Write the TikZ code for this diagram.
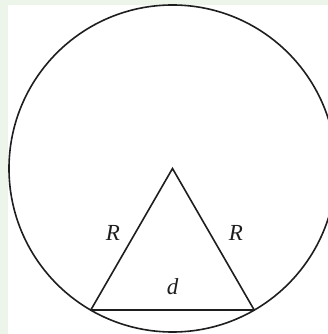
\documentclass[tikz,border=0pt]{standalone}
\usepackage{fontspec}
\setmainfont{Liberation Serif}
\definecolor{PageGreen}{HTML}{EDF4EA}
\definecolor{Ink}{HTML}{1E1E1E}

\begin{document}
\begin{tikzpicture}[x=1pt, y=1pt,
    rim/.style={draw=Ink, line width=1.6pt},
    side/.style={draw=Ink, line width=1.6pt},
    chord/.style={draw=Ink, line width=2.2pt},
    lbl/.style={font=\fontsize{23}{24}\selectfont\itshape, text=Ink, inner sep=0pt}]
  \useasboundingbox (-172.5,-165.5) rectangle (155.5,168.5);
  \fill[PageGreen] (-172.5,-165.5) rectangle (155.5,168.5);
  \fill[white] (-164.5,-165.5) rectangle (155.5,163.5);
  \clip (-172.5,-165.5) rectangle (155.5,168.5);
  % centre and the two ends of the chord
  \coordinate (O) at (0,0);
  \coordinate (A) at (240:163.5);
  \coordinate (B) at (300:163.5);
  \draw[rim] (O) circle (163.5);
  \draw[side] (A) -- (O) -- (B);
  \draw[chord] (A) -- (B);
  \node[lbl] (rLeft) at (-59.5,-64.5) {R};
  \node[lbl] (rRight) at (63.5,-64.5) {R};
  \node[lbl] (dLab) at (0,-118.5) {d};
\end{tikzpicture}
\end{document}
